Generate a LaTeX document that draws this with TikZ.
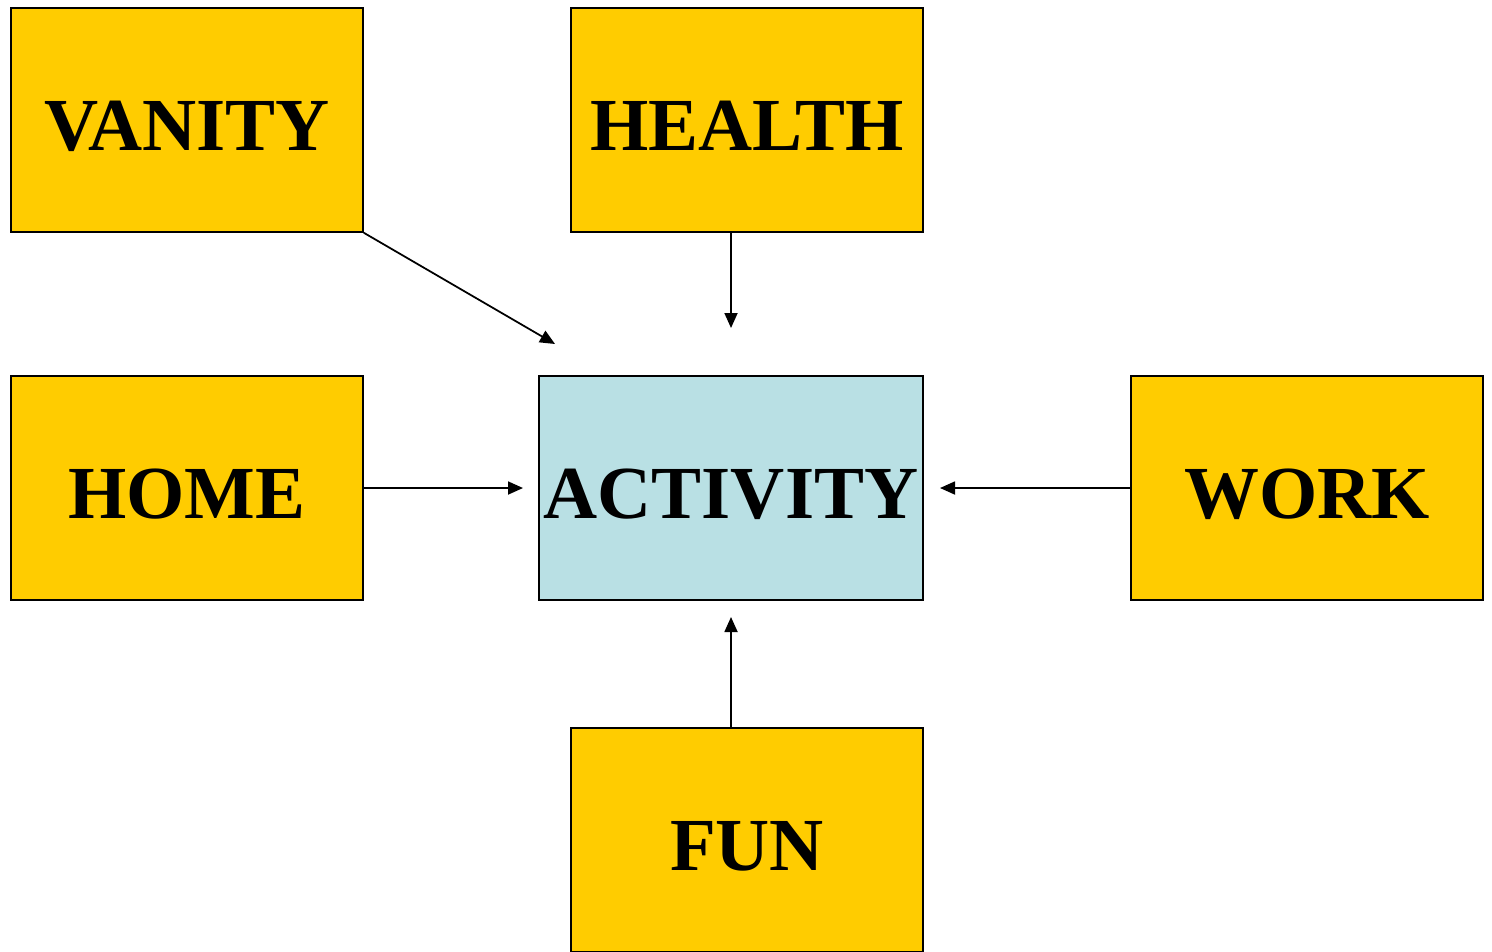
\documentclass[tikz,border=0pt]{standalone}
\usepackage{fontspec}
\setmainfont{Liberation Serif}
\usetikzlibrary{arrows.meta}
\definecolor{boxyellow}{HTML}{FFCC00}
\definecolor{boxblue}{HTML}{B9E0E4}

\begin{document}
\begin{tikzpicture}[x=0.01cm, y=-0.01cm,
    factor/.style={draw, line width=0.4pt, fill=boxyellow, minimum width=3.52cm, minimum height=2.24cm,
        inner sep=0pt, text height=0.6cm, text depth=0cm, font=\fontsize{21.3}{26}\selectfont\bfseries},
    hub/.style={factor, fill=boxblue, minimum width=3.84cm},
    thinarrow/.style={-{Triangle[length=1.5mm,width=1.3mm]}, line width=0.5pt}
]
    \useasboundingbox (0,0) rectangle (1492,951);
    \begin{scope}
    \clip (0,0) rectangle (1492,951);
    % Factors
    \node[factor] (vanity) at (187,120) {VANITY};
    \node[factor] (health) at (747,120) {HEALTH};
    \node[factor] (home) at (187,488) {HOME};
    \node[factor] (work) at (1307,488) {WORK};
    \node[factor] (fun) at (747,840) {FUN};
    % Centre
    \node[hub] (act) at (731,488) {ACTIVITY};
    \end{scope}

    % Arrow tips
    \coordinate (vanitytip) at (555,344);
    \coordinate (healthtip) at (731,328);
    \coordinate (hometip) at (523,488);
    \coordinate (worktip) at (940,488);
    \coordinate (funtip) at (731,617);

    % Arrows
    \draw[thinarrow] (vanity.south east) -- (vanitytip);
    \draw[thinarrow] (healthtip |- health.south) -- (healthtip);
    \draw[thinarrow] (home.east) -- (hometip);
    \draw[thinarrow] (work.west) -- (worktip);
    \draw[thinarrow] (funtip |- fun.north) -- (funtip);
\end{tikzpicture}
\end{document}
